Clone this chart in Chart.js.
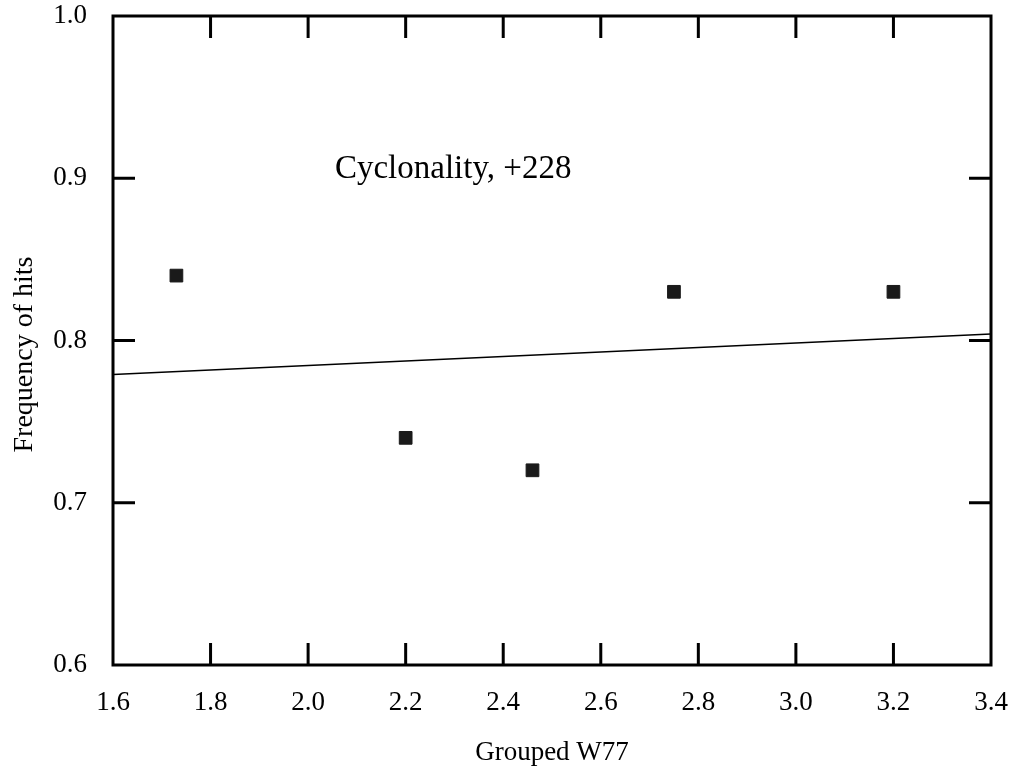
<!DOCTYPE html>
<html><head><meta charset="utf-8">
<script src="https://cdn.jsdelivr.net/npm/chart.js@4/dist/chart.umd.min.js"></script>
<style>html,body{margin:0;padding:0;background:#fff;}#wrap{width:1016px;height:772px;}</style>
</head><body><div id="wrap"><canvas id="c" width="1016" height="772"></canvas></div>
<script>
// ---- data ----
const pointX = [1.73, 2.20, 2.46, 2.75, 3.20];
const pointY = [0.840, 0.740, 0.720, 0.830, 0.830];
const fitX = [1.6, 3.4];
const fitY = [0.779, 0.804];
const xTicks = [1.6, 1.8, 2.0, 2.2, 2.4, 2.6, 2.8, 3.0, 3.2, 3.4];
const yTicks = [0.6, 0.7, 0.8, 0.9, 1.0];
const xTitle = 'Grouped W77';
const yTitle = 'Frequency of hits';
const noteText = 'Cyclonality, +228';
const notePos = { x: 2.055, y: 0.90 };

const SERIF = "'Liberation Serif', 'Times New Roman', Times, serif";

const framePlugin = {
  id: 'frame',
  afterDatasetsDraw(chart) {
    const { ctx, chartArea: a, scales } = chart;
    const xs = scales.x, ys = scales.y;
    ctx.save();
    ctx.strokeStyle = '#000';
    ctx.lineWidth = 3;
    ctx.lineCap = 'butt';
    ctx.strokeRect(a.left, a.top, a.right - a.left, a.bottom - a.top);
    const TL = 22;
    ctx.beginPath();
    xTicks.slice(1, -1).forEach(v => {
      const px = xs.getPixelForValue(v);
      ctx.moveTo(px, a.bottom); ctx.lineTo(px, a.bottom - TL);
      ctx.moveTo(px, a.top); ctx.lineTo(px, a.top + TL);
    });
    yTicks.slice(1, -1).forEach(v => {
      const py = ys.getPixelForValue(v);
      ctx.moveTo(a.left, py); ctx.lineTo(a.left + TL, py);
      ctx.moveTo(a.right, py); ctx.lineTo(a.right - TL, py);
    });
    ctx.stroke();
    ctx.fillStyle = '#000';
    ctx.font = '33px ' + SERIF;
    ctx.textAlign = 'left';
    ctx.textBaseline = 'alphabetic';
    ctx.fillText(noteText, xs.getPixelForValue(notePos.x), ys.getPixelForValue(notePos.y));
    ctx.restore();
  }
};

new Chart(document.getElementById('c'), {
  type: 'scatter',
  data: {
    datasets: [
      {
        type: 'line',
        data: fitX.map((x, i) => ({ x, y: fitY[i] })),
        borderColor: '#000',
        borderWidth: 1.5,
        pointRadius: 0,
        fill: false,
        tension: 0
      },
      {
        type: 'scatter',
        data: pointX.map((x, i) => ({ x, y: pointY[i] })),
        pointStyle: 'rect',
        pointRadius: 9,
        backgroundColor: '#1a1a1a',
        borderColor: '#1a1a1a',
        borderWidth: 1
      }
    ]
  },
  options: {
    responsive: false,
    animation: false,
    devicePixelRatio: 1,
    layout: { padding: { top: 16, right: 25, left: 0, bottom: 0 } },
    plugins: { legend: { display: false }, tooltip: { enabled: false } },
    scales: {
      x: {
        type: 'linear',
        min: 1.6, max: 3.4,
        afterBuildTicks: s => { s.ticks = xTicks.map(v => ({ value: v })); },
        afterFit: s => { s.height = 107; s.paddingLeft = 0; s.paddingRight = 0; },
        grid: { display: false, drawTicks: false },
        border: { display: false },
        ticks: {
          callback: v => Number(v).toFixed(1),
          color: '#000',
          font: { family: SERIF, size: 27 },
          padding: 22,
          maxRotation: 0,
          autoSkip: false
        },
        title: {
          display: true, text: xTitle, color: '#000',
          font: { family: SERIF, size: 27 },
          padding: { top: 0, bottom: 3 }
        }
      },
      y: {
        type: 'linear',
        min: 0.6, max: 1.0,
        afterBuildTicks: s => { s.ticks = yTicks.map(v => ({ value: v })); },
        afterFit: s => { s.width = 113; s.paddingTop = 0; s.paddingBottom = 0; },
        grid: { display: false, drawTicks: false },
        border: { display: false },
        ticks: {
          callback: v => Number(v).toFixed(1),
          color: '#000',
          font: { family: SERIF, size: 27 },
          padding: 26,
          autoSkip: false
        },
        title: {
          display: true, text: yTitle + '    ', color: '#000',
          font: { family: SERIF, size: 28 },
          padding: { top: 8, bottom: 0 }
        }
      }
    }
  },
  plugins: [framePlugin]
});
</script>
</body></html>
